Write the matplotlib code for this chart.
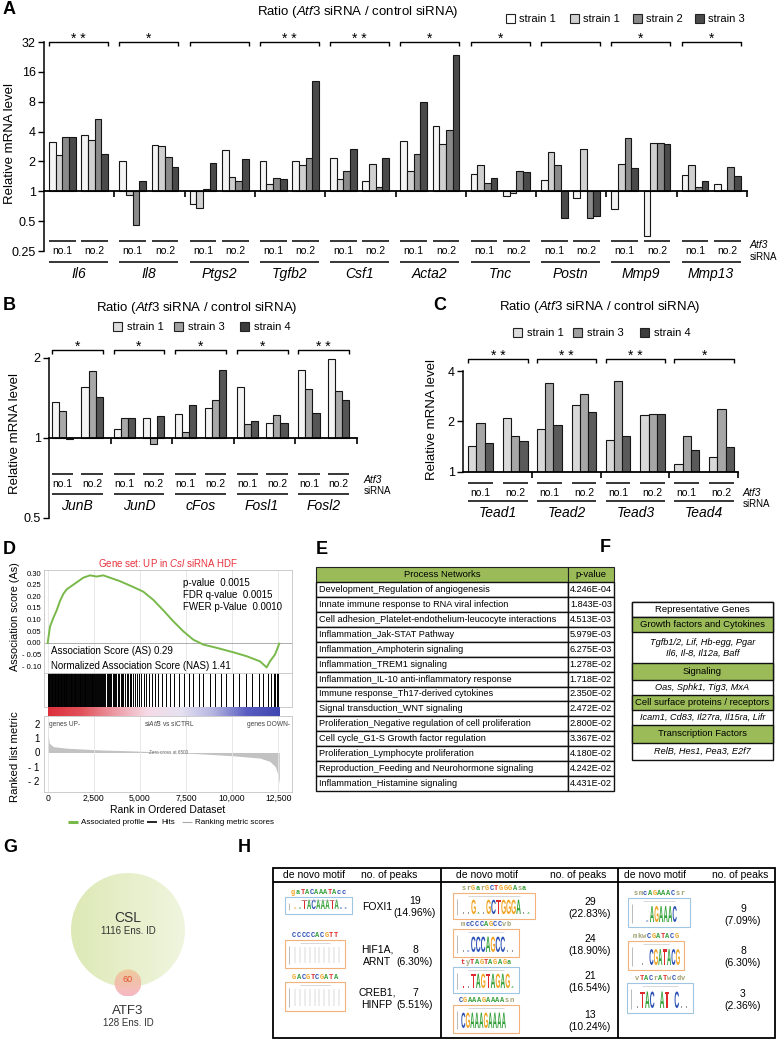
import numpy as np
import matplotlib
matplotlib.use("Agg")
import matplotlib.pyplot as plt
from matplotlib.patches import Rectangle, Circle, PathPatch
from matplotlib.transforms import blended_transform_factory, Affine2D
from matplotlib.textpath import TextPath
from matplotlib.font_manager import FontProperties
from matplotlib.colors import LinearSegmentedColormap
from matplotlib.ticker import NullLocator, FuncFormatter

plt.rcParams["font.family"] = ["Liberation Sans", "DejaVu Sans"]
plt.rcParams["mathtext.fontset"] = "custom"
plt.rcParams["mathtext.rm"] = "Liberation Sans"
plt.rcParams["mathtext.it"] = "Liberation Sans:italic"

W, H = 779, 1040

# --- A : ratio Atf3 siRNA / control siRNA ---
genes_a = ["Il6", "Il8", "Ptgs2", "Tgfb2", "Csf1", "Acta2", "Tnc", "Postn", "Mmp9", "Mmp13"]
strains_a = ["strain 1", "strain 1", "strain 2", "strain 3"]
sig_a = ["* *", "*", "", "* *", "* *", "*", "*", "", "*", "*"]
a_no1 = [[3.12, 2.33, 3.56, 3.51], [2.03, 0.91, 0.46, 1.26], [0.74, 0.68, 1.05, 1.95],
         [2.03, 1.19, 1.37, 1.32], [2.18, 1.34, 1.61, 2.68], [3.25, 1.60, 2.37, 7.88],
         [1.50, 1.82, 1.21, 1.37], [1.30, 2.50, 1.84, 0.54], [0.66, 1.89, 3.46, 1.73],
         [1.45, 1.82, 1.10, 1.26]]
a_no2 = [[3.73, 3.30, 5.36, 2.39], [2.94, 2.89, 2.23, 1.77], [2.58, 1.39, 1.28, 2.13],
         [2.03, 1.82, 2.18, 12.9], [1.28, 1.89, 1.10, 2.18], [4.50, 3.01, 4.16, 23.5],
         [0.89, 0.96, 1.61, 1.55], [0.86, 2.68, 0.54, 0.56], [0.354, 3.06, 3.06, 3.01],
         [1.18, 1.04, 1.75, 1.43]]

# --- B ---
genes_b = ["JunB", "JunD", "cFos", "Fosl1", "Fosl2"]
strains_b = ["strain 1", "strain 3", "strain 4"]
sig_b = ["*", "*", "*", "*", "* *"]
b_no1 = [[1.37, 1.26, 0.99], [1.08, 1.19, 1.19], [1.23, 1.05, 1.33], [1.56, 1.13, 1.16], [1.80, 1.53, 1.24]]
b_no2 = [[1.56, 1.78, 1.43], [1.19, 0.95, 1.21], [1.30, 1.39, 1.80], [1.14, 1.22, 1.14], [1.99, 1.50, 1.39]]

# --- C ---
genes_c = ["Tead1", "Tead2", "Tead3", "Tead4"]
strains_c = ["strain 1", "strain 3", "strain 4"]
sig_c = ["* *", "* *", "* *", "*"]
c_no1 = [[1.42, 1.97, 1.48], [1.80, 3.41, 1.91], [1.56, 3.50, 1.63], [1.12, 1.64, 1.35]]
c_no2 = [[2.09, 1.65, 1.52], [2.50, 2.92, 2.29], [2.19, 2.22, 2.22], [1.23, 2.39, 1.40]]

# --- D : GSEA ---
es_rank = [0, 125, 304, 488, 667, 846, 1030, 1301, 1573, 1931, 2294, 2657, 3015, 3379, 3921,
           4642, 5184, 5727, 6269, 6811, 7354, 7896, 8438, 9165, 10065, 10792, 11513, 11876,
           12055, 12326, 12560]
es_val = [0.0, 0.07, 0.107, 0.14, 0.18, 0.21, 0.23, 0.245, 0.26, 0.28, 0.29, 0.285, 0.29, 0.28,
          0.265, 0.24, 0.22, 0.185, 0.14, 0.093, 0.05, 0.014, -0.007, -0.021, -0.04, -0.057,
          -0.079, -0.105, -0.079, -0.05, -0.003]
hits = [20, 60, 95, 140, 170, 215, 250, 300, 330, 370, 420, 445, 490, 540, 575, 620, 650, 700,
        740, 770, 820, 860, 900, 935, 980, 1020, 1060, 1110, 1150, 1190, 1240, 1270, 1330, 1370,
        1400, 1460, 1500, 1545, 1600, 1630, 1690, 1730, 1770, 1820, 1870, 1900, 1960, 2010, 2050,
        2100, 2140, 2200, 2240, 2290, 2330, 2390, 2430, 2470, 2530, 2580, 2620, 2680, 2730, 2790,
        2830, 2890, 2950, 3000, 3070, 3120, 3190, 3260, 3300, 3380, 3450, 3520, 3580, 3660, 3720,
        3810, 3870, 3950, 4040, 4110, 4200, 4290, 4360, 4460, 4540, 4640, 4730, 4850, 4940, 5080,
        5200, 5350, 5480, 5640, 5800, 5990, 6180, 6420, 6610, 6870, 7110, 7370, 7640, 7880, 8200,
        8450, 8780, 9050, 9400, 9690, 10060, 10370, 10740, 11060, 11440, 11690, 11950, 12110,
        12270, 12350, 12430, 12500]
metric_rank = [0, 30, 90, 300, 1030, 2840, 4640, 6450, 8260, 10070, 11510, 12050, 12350, 12500, 12560]
metric_val = [1.9, 1.2, 0.64, 0.41, 0.30, 0.18, 0.11, 0.02, -0.09, -0.23, -0.39, -0.62, -1.0, -1.6, -2.2]
rank_ticks = [0, 2500, 5000, 7500, 10000, 12500]
es_ticks = [0.30, 0.25, 0.20, 0.15, 0.10, 0.05, 0.00, -0.05, -0.10]
metric_ticks = [2, 1, 0, -1, -2]

# --- E : process networks ---
networks = ["Development_Regulation of angiogenesis",
            "Innate immune response to RNA viral infection",
            "Cell adhesion_Platelet-endothelium-leucocyte interactions",
            "Inflammation_Jak-STAT Pathway",
            "Inflammation_Amphoterin signaling",
            "Inflammation_TREM1 signaling",
            "Inflammation_IL-10 anti-inflammatory response",
            "Immune response_Th17-derived cytokines",
            "Signal transduction_WNT signaling",
            "Proliferation_Negative regulation of cell proliferation",
            "Cell cycle_G1-S Growth factor regulation",
            "Proliferation_Lymphocyte proliferation",
            "Reproduction_Feeding and Neurohormone signaling",
            "Inflammation_Histamine signaling"]
network_p = ["4.246E-04", "1.843E-03", "4.513E-03", "5.979E-03", "6.275E-03", "1.278E-02",
             "1.718E-02", "2.350E-02", "2.472E-02", "2.800E-02", "3.367E-02", "4.180E-02",
             "4.242E-02", "4.431E-02"]

# --- F ---
rep_groups = ["Growth factors and Cytokines", "Signaling",
              "Cell surface proteins / receptors", "Transcription Factors"]
rep_genes = ["Tgfb1/2, Lif, Hb-egg, Pgar\nIl6, Il-8, Il12a, Baff", "Oas, Sphk1, Tig3, MxA",
             "Icam1, Cd83, Il27ra, Il15ra, Lifr", "RelB, Hes1, Pea3, E2f7"]

# --- G ---
csl_ids, atf3_ids, overlap_ids = 1116, 128, 60

# --- H : de novo motifs ---
total_peaks = 127
motif_cols = [["gaTACAAATAcc", "CCCCCACGTT", "GACGTCGATA"],
              ["srGarGCTGGGAsa", "mcCCCAGCCvb", "tyTAGTAGAGa", "CGAAAGAAAAsn"],
              ["smcAGAAACsr", "mkwCGATACG", "vTACrATwCdv"]]
motif_peaks = [[19, 8, 7], [29, 24, 21, 13], [9, 8, 3]]
motif_tf = ["FOXI1", "HIF1A,\nARNT", "CREB1,\nHINFP"]
motif_has_logo = [[True, False, False], [True, True, True, True], [True, True, True]]

fig = plt.figure(figsize=(W / 100, H / 100), dpi=100)
ov = fig.add_axes([0, 0, 1, 1], zorder=10)
ov.set_xlim(0, W)
ov.set_ylim(H, 0)
ov.set_axis_off()
ov.set_autoscale_on(False)


def add_ax(x0, y0, x1, y1):
    return fig.add_axes([x0 / W, 1 - y1 / H, (x1 - x0) / W, (y1 - y0) / H])


def txt(x, y, s, size=7, **kw):
    kw.setdefault("ha", "center")
    kw.setdefault("va", "center")
    return ov.text(x, y, s, fontsize=size, **kw)


def line(xs, ys, lw=1.0, color="black", tr=None):
    ov.plot(xs, ys, color=color, lw=lw, transform=tr if tr is not None else ov.transData,
            clip_on=False, solid_capstyle="butt")


def square(x, y, color, size=9):
    ov.add_patch(Rectangle((x, y), size, size, fc=color, ec="#222222", lw=0.8))


def bar_panel(box, genes, no1, no2, colors, centers, bw, sig, ylim, yticks,
              bracket_y, short_y, no_y, long_y, gene_y):
    ax = add_ax(*box)
    ax.set_facecolor("none")
    ax.set_yscale("log", base=2)
    n, ns = len(genes), len(colors)
    for g in range(n):
        for k, vals in enumerate((no1[g], no2[g])):
            for s, v in enumerate(vals):
                x = g + centers[k] + (s - (ns - 1) / 2) * bw
                ax.bar(x, v - 1, bottom=1, width=bw, color=colors[s],
                       edgecolor="#151515", linewidth=0.8, zorder=2)
    ax.set_xlim(0, n)
    ax.set_ylim(*ylim)
    ax.set_autoscale_on(False)
    for sp in ("top", "right"):
        ax.spines[sp].set_visible(False)
    ax.spines["bottom"].set_position(("data", 1))
    ax.spines["bottom"].set_linewidth(1.3)
    ax.spines["bottom"].set_zorder(3)
    ax.spines["left"].set_linewidth(1.1)
    ax.set_xticks(range(1, n + 1))
    ax.tick_params(axis="x", direction="out", length=4, width=1.2, labelbottom=False)
    ax.set_yticks(yticks)
    ax.set_yticklabels([f"{t:g}" for t in yticks])
    ax.yaxis.set_minor_locator(NullLocator())
    ax.tick_params(axis="y", direction="out", length=4, width=1, labelsize=9, pad=2)
    tr = blended_transform_factory(ax.transData, ov.transData)
    half = ns * bw / 2
    for g in range(n):
        lefts = [g + c - half for c in centers]
        rights = [g + c + half for c in centers]
        for k in range(2):
            line([lefts[k], rights[k]], [short_y, short_y], 1.1, tr=tr)
            ov.text((lefts[k] + rights[k]) / 2, no_y, f"no.{k + 1}", fontsize=7.5,
                    ha="center", va="center", transform=tr)
        line([lefts[0], rights[1]], [long_y, long_y], 1.1, tr=tr)
        mid = (lefts[0] + rights[1]) / 2
        ov.text(mid, gene_y, genes[g], fontsize=10, style="italic", ha="center",
                va="center", transform=tr)
        line([lefts[0], lefts[0], rights[1], rights[1]],
             [bracket_y + 4, bracket_y, bracket_y, bracket_y + 4], 1.0, tr=tr)
        if sig[g]:
            ov.text(mid, bracket_y - 3, sig[g], fontsize=10, ha="center", va="center",
                    transform=tr)
    return ax


title_ratio = "Ratio ($\\mathit{Atf3}$ siRNA / control siRNA)"

# ---------------- A ----------------
cols_a = ["#f4f4f4", "#d0d0d0", "#8a8a8a", "#4a4a4a"]
bar_panel((44, 42, 747, 251), genes_a, a_no1, a_no2, cols_a, (0.26, 0.72), 0.095, sig_a,
          (0.25, 32), [0.25, 0.5, 1, 2, 4, 8, 16, 32], 42, 241, 251, 262, 274)
txt(3, 9, "A", 13, weight="bold", ha="left")
txt(358, 12, title_ratio, 9.5)
txt(10, 143, "Relative mRNA level", 9.5, rotation=90)
for i, (lx, lab) in enumerate(zip([506, 570, 633, 695], strains_a)):
    square(lx, 14, ["#ffffff", "#d0d0d0", "#8a8a8a", "#4a4a4a"][i])
    txt(lx + 13, 19, lab, 8, ha="left")
txt(750, 245, "Atf3", 7.5, style="italic", ha="left")
txt(750, 257, "siRNA", 7, ha="left")

# ---------------- B ----------------
cols_b = ["#f4f4f4", "#a8a8a8", "#555555"]
bar_panel((49, 358, 357, 518), genes_b, b_no1, b_no2, cols_b, (0.22, 0.70), 0.115, sig_b,
          (0.5, 2), [0.5, 1, 2], 350, 474, 484, 494, 506)
txt(3, 305, "B", 13, weight="bold", ha="left")
txt(197, 308, title_ratio, 9.5)
txt(15, 433, "Relative mRNA level", 9.5, rotation=90)
for i, (lx, lab) in enumerate(zip([113, 174, 240], strains_b)):
    square(lx, 322, ["#dcdcdc", "#a0a0a0", "#3c3c3c"][i])
    txt(lx + 14, 327, lab, 8, ha="left")
txt(364, 480, "Atf3", 7.5, style="italic", ha="left")
txt(364, 491, "siRNA", 7, ha="left")

# ---------------- C ----------------
cols_c = ["#d9d9d9", "#a6a6a6", "#5a5a5a"]
bar_panel((463, 371, 738, 472), genes_c, c_no1, c_no2, cols_c, (0.255, 0.76), 0.12, sig_c,
          (1, 4), [1, 2, 4], 359, 483, 493, 501, 513)
txt(433, 305, "C", 13, weight="bold", ha="left")
txt(600, 307, title_ratio, 9.5)
txt(432, 420, "Relative mRNA level", 9.5, rotation=90)
for i, (lx, lab) in enumerate(zip([513, 573, 640], strains_c)):
    square(lx, 328, ["#dcdcdc", "#a0a0a0", "#3c3c3c"][i])
    txt(lx + 14, 333, lab, 8, ha="left")
txt(743, 493, "Atf3", 7.5, style="italic", ha="left")
txt(743, 504, "siRNA", 7, ha="left")

# ---------------- D ----------------
narrow = ["Liberation Sans Narrow", "Liberation Sans", "DejaVu Sans"]
xlim_d = (-200, 13250)
grid_c = "#e4e4e4"
frame_c = "#c4c4c4"

ax_es = add_ax(44, 570, 292, 673)
ax_es.plot(es_rank, es_val, color="#78b94a", lw=1.4, zorder=3)
ax_es.axhline(0, color="#a0a0a0", lw=0.6)
ax_es.set_xlim(*xlim_d)
ax_es.set_ylim(-0.129, 0.313)
ax_es.set_xticks(rank_ticks)
ax_es.set_yticks(es_ticks)
ax_es.set_yticklabels([f"{t:.2f}".replace("-", "- ") for t in es_ticks], family=narrow)
ax_es.tick_params(length=0, labelbottom=False, labelsize=5.5, pad=2)
ax_es.grid(axis="x", color=grid_c, lw=0.6)

ax_hit = add_ax(44, 673, 292, 707)
ax_hit.vlines(hits, 0, 1, color="black", lw=0.7)
ax_hit.set_xlim(*xlim_d)
ax_hit.set_ylim(0, 1)
ax_hit.set_xticks(rank_ticks)
ax_hit.set_yticks([])
ax_hit.tick_params(length=0, labelbottom=False)

ax_cb = add_ax(47.7, 707, 279, 716)
rb = LinearSegmentedColormap.from_list(
    "rb", ["#dc2f3a", "#e2525b", "#ec9aa4", "#f6dbe6", "#e6e2f2", "#b4b4e0", "#5a5ec2", "#3f45b0"])
ax_cb.imshow(np.linspace(0, 1, 256)[None, :], aspect="auto", cmap=rb)
ax_cb.set_axis_off()

ax_m = add_ax(44, 716, 292, 792)
ax_m.fill_between(metric_rank, metric_val, 0, color="#c2c2c2", lw=0)
ax_m.set_xlim(*xlim_d)
ax_m.set_ylim(-2.76, 2.55)
ax_m.set_xticks(rank_ticks)
ax_m.xaxis.set_major_formatter(FuncFormatter(lambda v, p: f"{int(v):,}"))
ax_m.set_yticks(metric_ticks)
ax_m.set_yticklabels([str(t).replace("-", "- ") for t in metric_ticks])
ax_m.tick_params(length=0, labelsize=7, pad=3)
ax_m.tick_params(axis="x", labelsize=6.2, pad=1.5)
for lab in ax_m.get_xticklabels():
    lab.set_family(narrow)
ax_m.grid(axis="x", color=grid_c, lw=0.6)

for a in (ax_es, ax_hit, ax_m):
    for sp in a.spines.values():
        sp.set_color(frame_c)
        sp.set_linewidth(0.6)

txt(3, 550, "D", 13, weight="bold", ha="left")
txt(168, 563, "Gene set: UP in $\\mathit{Csl}$ siRNA HDF", 7, color="#e8323c")
txt(15, 617, "Association score (As)", 7.8, rotation=90, family=narrow)
txt(15, 757, "Ranked list metric", 8.2, rotation=90, family=narrow)
txt(183, 583, "p-value  0.0015", 7, ha="left", family=narrow)
txt(183, 595, "FDR q-value  0.0015", 7, ha="left", family=narrow)
txt(183, 607, "FWER p-Value  0.0010", 7, ha="left", family=narrow)
txt(51, 651, "Association Score (AS) 0.29", 7, ha="left", family=narrow)
txt(51, 666, "Normalized Association Score (NAS) 1.41", 7, ha="left", family=narrow)
txt(49, 724, "genes UP-", 4.8, ha="left", family=narrow, color="#444444")
txt(169, 724, "si$\\mathit{Atf3}$ vs siCTRL", 4.8, family=narrow, color="#444444")
txt(290, 724, "genes DOWN-", 4.8, ha="right", family=narrow, color="#444444")
txt(169, 753, "Zero cross at 6500", 3.3, family=narrow, color="#666666")
txt(168, 810, "Rank in Ordered Dataset", 7.5, family=narrow)
line([68, 78], [822, 822], 2.2, "#78b94a")
txt(81, 822, "Associated profile", 5.8, ha="left", family=narrow)
line([147, 157], [822, 822], 1.2, "black")
txt(161, 822, "Hits", 5.8, ha="left", family=narrow)
line([182, 192], [822, 822], 0.8, "#aaaaaa")
txt(195, 822, "Ranking metric scores", 5.8, ha="left", family=narrow)

# ---------------- E ----------------
green = "#9bbb59"
ex0, ex1, ecol = 316, 614, 568
ov.add_patch(Rectangle((ex0, 567), ecol - ex0, 15, fc=green, ec="#222222", lw=0.8))
ov.add_patch(Rectangle((ecol, 567), ex1 - ecol, 15, fc=green, ec="#222222", lw=0.8))
txt((ex0 + ecol) / 2, 574.5, "Process Networks", 6.8)
txt((ecol + ex1) / 2, 574.5, "p-value", 6.8)
row_h = 14.93
for i, (name, pv) in enumerate(zip(networks, network_p)):
    y = 582 + i * row_h
    ov.add_patch(Rectangle((ex0, y), ecol - ex0, row_h, fc="white", ec="#111111", lw=1.0))
    ov.add_patch(Rectangle((ecol, y), ex1 - ecol, row_h, fc="white", ec="#111111", lw=1.0))
    txt(ex0 + 3, y + row_h / 2, name, 6.6, ha="left")
    txt(ex1 - 2, y + row_h / 2, pv, 6.6, ha="right")
txt(316, 550, "E", 13, weight="bold", ha="left")

# ---------------- F ----------------
fx0, fx1 = 632, 773
txt(600, 548, "F", 13, weight="bold", ha="left")
f_rows = [(602, 617), (617, 632), (632, 663), (663, 680), (680, 695), (695, 710),
          (710, 725), (725, 743), (743, 760)]
ov.add_patch(Rectangle((fx0, 602), fx1 - fx0, 760 - 602, fill=False, ec="#111111", lw=1.0))
ov.add_patch(Rectangle((fx0, 602), fx1 - fx0, 15, fc="white", ec="#111111", lw=1.0))
txt((fx0 + fx1) / 2, 609.5, "Representative Genes", 6.8)
for k, (grp, gl) in enumerate(zip(rep_groups, rep_genes)):
    (gy0, gy1), (ty0, ty1) = f_rows[1 + 2 * k], f_rows[2 + 2 * k]
    ov.add_patch(Rectangle((fx0, gy0), fx1 - fx0, gy1 - gy0, fc=green, ec="#111111", lw=1.0))
    txt((fx0 + fx1) / 2, (gy0 + gy1) / 2, grp, 6.8)
    txt((fx0 + fx1) / 2, (ty0 + ty1) / 2, gl, 6.6, style="italic", linespacing=1.25)

# ---------------- G ----------------
txt(3, 847, "G", 13, weight="bold", ha="left")
big = Circle((128, 930), 57, fc="none", ec="none")
ov.add_patch(big)
gimg = ov.imshow(np.linspace(0, 1, 64)[None, :], extent=[71, 185, 987, 873], aspect="auto",
                 cmap=LinearSegmentedColormap.from_list("gg", ["#dde9b6", "#f0f5de"]), zorder=1)
gimg.set_clip_path(big)
small = Circle((128, 983), 13.5, fc="none", ec="none")
ov.add_patch(small)
simg = ov.imshow(np.linspace(0, 1, 32)[:, None], extent=[114.5, 141.5, 996.5, 969.5],
                 aspect="auto", alpha=0.9,
                 cmap=LinearSegmentedColormap.from_list("pp", ["#f0c898", "#f5b0ba"]), zorder=2)
simg.set_clip_path(small)
txt(128, 918, "CSL", 10, color="#333333")
txt(128, 931, f"{csl_ids} Ens. ID", 7, color="#333333")
txt(128, 980, str(overlap_ids), 6.5, color="#e2522c")
txt(128, 1011, "ATF3", 9.5, color="#333333")
txt(128, 1023, f"{atf3_ids} Ens. ID", 7, color="#333333")

# ---------------- H ----------------
txt(238, 848, "H", 13, weight="bold", ha="left")
hx0, hx1, hy0, hy1 = 273, 775, 868, 1038
col_x = [273, 441, 618, 775]
ov.add_patch(Rectangle((hx0, hy0), hx1 - hx0, hy1 - hy0, fill=False, ec="black", lw=1.3))
line([hx0, hx1], [882, 882], 1.3)
for xd in col_x[1:3]:
    line([xd, xd], [hy0, hy1], 1.3)
for cm, cp in zip([314, 487, 655], [389, 578, 740]):
    txt(cm, 875, "de novo motif", 7.5)
    txt(cp, 875, "no. of peaks", 7.5)

nuc = {"A": "#35a13a", "C": "#2a4fb5", "G": "#f0a21e", "T": "#de2a2a"}
fp_logo = FontProperties(family="Liberation Sans", weight="bold")


def letter(ch, x, ybase, w, h, color):
    path = TextPath((0, 0), ch, size=10, prop=fp_logo)
    bb = path.get_extents()
    t = (Affine2D().translate(-bb.x0, -bb.y0).scale(w / bb.width, -h / bb.height)
         .translate(x, ybase) + ov.transData)
    ov.add_patch(PathPatch(path, transform=t, fc=color, lw=0))


def motif(seq, bx0, by0, bx1, by1, edge, show):
    # coloured consensus string above the logo
    step_s = 4.6
    sx = (bx0 + bx1) / 2 - step_s * len(seq) / 2
    for i, ch in enumerate(seq):
        c = nuc.get(ch.upper(), "#a0a070")
        ov.text(sx + (i + 0.5) * step_s, by0 - 4.5, ch, fontsize=5, family="Liberation Mono",
                weight="bold", color=c, ha="center", va="center")
    ov.add_patch(Rectangle((bx0, by0), bx1 - bx0, by1 - by0, fc="white", ec=edge, lw=0.8))
    line([bx0 + 4, bx0 + 4], [by0 + 6, by1 - 4], 0.4, "#888888")
    line([bx0 + 15, bx1 - 15], [by0 + 3, by0 + 3], 0.4, "#bbbbbb")
    step = (bx1 - bx0 - 12) / len(seq)
    for i, ch in enumerate(seq):
        x = bx0 + 8 + i * step
        if not show:
            line([x + step / 2, x + step / 2], [by0 + 7, by1 - 5], 0.3, "#aaaaaa")
        elif ch.isupper():
            letter(ch, x + 0.3, by1 - 5, step * 0.9, (by1 - by0) * 0.55, nuc[ch])
        else:
            letter(ch.upper() if ch.upper() in nuc else "T", x + step * 0.3, by1 - 5,
                   step * 0.4, 2, nuc.get(ch.upper(), "#999999"))


boxes = [[(285, 897, 352, 914), (285, 940, 345, 968), (285, 982, 345, 1011)],
         [(453, 893, 535, 919), (453, 929, 519, 957), (453, 967, 519, 993), (453, 1005, 519, 1033)],
         [(628, 898, 690, 927), (628, 941, 684, 970), (627, 983, 693, 1013)]]
edges = [["#9ec5e2", "#f2b27a", "#f2b27a"],
         ["#f2b27a", "#f2b27a", "#9ec5e2", "#f2b27a"],
         ["#9ec5e2", "#f2b27a", "#9ec5e2"]]
peak_x = [415, 590, 743]
for c in range(3):
    for r, seq in enumerate(motif_cols[c]):
        bx0, by0, bx1, by1 = boxes[c][r]
        motif(seq, bx0, by0, bx1, by1, edges[c][r], motif_has_logo[c][r])
        yc = (by0 + by1) / 2 + 2
        n = motif_peaks[c][r]
        txt(peak_x[c], yc - 6, str(n), 7.5)
        txt(peak_x[c], yc + 6, f"({100 * n / total_peaks:.2f}%)", 7.5)
        if c == 0:
            txt(377, yc, motif_tf[r], 7.5, linespacing=1.3)

ov.set_xlim(0, W)
ov.set_ylim(H, 0)
ov.set_aspect("auto")

fig.savefig("out.png", dpi=100)
